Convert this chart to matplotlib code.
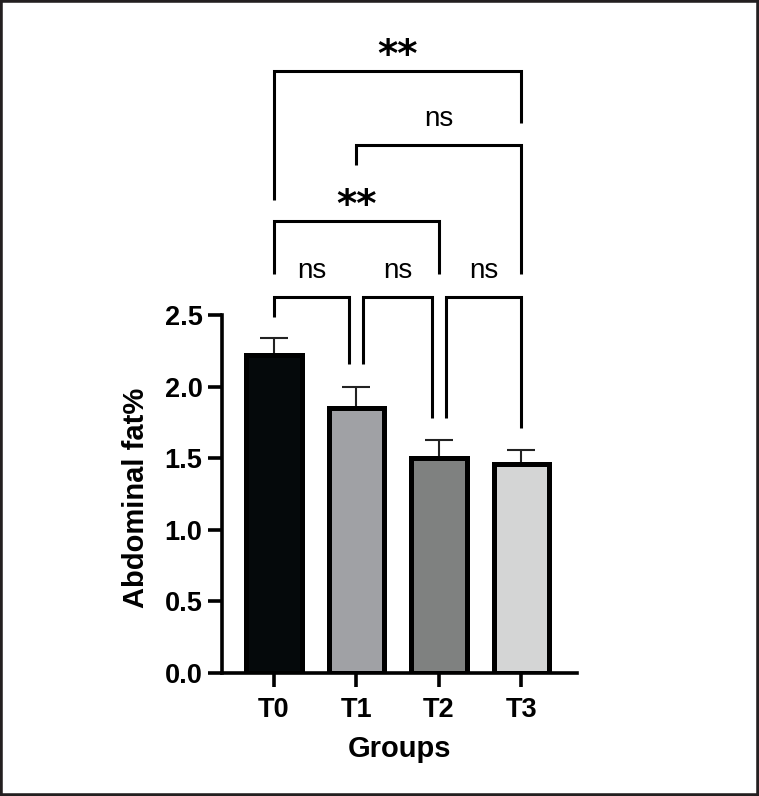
import matplotlib
matplotlib.use("Agg")
import matplotlib.pyplot as plt
from matplotlib.patches import Rectangle

plt.rcParams['font.family'] = ['Liberation Sans', 'DejaVu Sans']

# ---- data ----
groups = ["T0", "T1", "T2", "T3"]
means = [2.22, 1.85, 1.50, 1.46]
errors = [0.12, 0.15, 0.13, 0.10]
bar_colors = ["#05090b", "#a0a1a5", "#7f8180", "#d4d5d5"]
yticks = [0.0, 0.5, 1.0, 1.5, 2.0, 2.5]

# comparisons: (left group, right group), label
comp_pairs = [(0, 1), (1, 2), (2, 3), (0, 2), (1, 3), (0, 3)]
comp_labels = ["ns", "ns", "ns", "**", "ns", "**"]
comp_heights = [2.626, 2.626, 2.626, 3.157, 3.687, 4.204]
comp_left_ends = [2.486, 2.158, 1.78, 2.786, 3.547, 3.303]
comp_right_ends = [2.158, 1.78, 1.71, 2.786, 2.786, 3.84]
comp_left_shift = [0.0, 0.08, 0.08, 0.0, 0.0, 0.0]
comp_right_shift = [-0.09, -0.08, 0.0, 0.0, 0.0, 0.0]

W, H = 759, 796
fig = plt.figure(figsize=(W / 100, H / 100), dpi=100)
ax_left, ax_right, ax_top, ax_bottom = 222, 577, 30, 673
ax = fig.add_axes([ax_left / W, 1 - ax_bottom / H,
                   (ax_right - ax_left) / W, (ax_bottom - ax_top) / H])

x = list(range(len(groups)))
ax.bar(x, means, width=0.67, color=bar_colors, edgecolor="black",
       linewidth=3.6, zorder=2)
ax.errorbar(x, means, yerr=[[0] * len(errors), errors], fmt="none",
            ecolor="#222222", elinewidth=1.5, capsize=10, capthick=1.5,
            zorder=1)

ax.set_xlim(-0.63, 3.673)
ax.set_ylim(0, 4.49)
ax.set_yticks(yticks)
ax.set_yticklabels([f"{v:.1f}" for v in yticks])
ax.set_xticks(x)
ax.set_xticklabels(groups)
for s in ["top", "right"]:
    ax.spines[s].set_visible(False)
ax.spines["left"].set_bounds(0, 2.5)
for s in ["left", "bottom"]:
    ax.spines[s].set_linewidth(2.6)
ax.tick_params(axis="both", width=2.6, length=10, labelsize=19.5)
ax.tick_params(axis="y", pad=4)
ax.tick_params(axis="x", pad=7)
for lab in ax.get_xticklabels() + ax.get_yticklabels():
    lab.set_fontweight("bold")

# significance brackets
for (i, j), lab, h, le, re, ls, rs in zip(comp_pairs, comp_labels, comp_heights,
                                          comp_left_ends, comp_right_ends,
                                          comp_left_shift, comp_right_shift):
    xl, xr = i + ls, j + rs
    ax.plot([xl, xl, xr, xr], [le, h, h, re], color="black", lw=2.2,
            solid_joinstyle="miter", solid_capstyle="butt", clip_on=False)
    xm = (xl + xr) / 2
    if lab == "ns":
        ax.text(xm, h + 0.13, lab, ha="center", va="baseline", fontsize=20,
                clip_on=False)
    else:
        ax.text(xm, h + 0.03, lab, ha="center", va="baseline",
                fontsize=28, fontweight="bold", family="DejaVu Sans",
                clip_on=False)

ax.text(-0.242, (ax_bottom - 498) / (ax_bottom - ax_top), "Abdominal fat%",
        transform=ax.transAxes, rotation=90, ha="center", va="center",
        fontsize=21, fontweight="bold")
ax.text(0.5, (ax_bottom - 749) / (ax_bottom - ax_top), "Groups",
        transform=ax.transAxes, ha="center", va="center",
        fontsize=21, fontweight="bold")

fig.patches.append(Rectangle((0, 0), 1, 1, transform=fig.transFigure,
                             fill=False, edgecolor="#231f20", linewidth=4))

fig.savefig("out.png", dpi=100)
